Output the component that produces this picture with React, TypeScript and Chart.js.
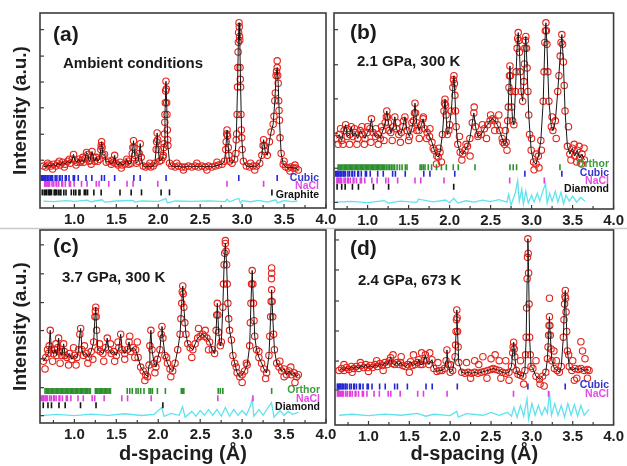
import React, { useEffect, useRef } from 'react';
import { Chart, registerables } from 'chart.js';
Chart.register(...registerables);

type Pt = [number, number];

const FONT = "'Liberation Sans', Arial, Helvetica, sans-serif";
const X_MIN = 0.59;
const X_MAX = 4.0;
const X_LABELS = [1.0, 1.5, 2.0, 2.5, 3.0, 3.5, 4.0];
const X_MARKS = [0.75, 1.0, 1.25, 1.5, 1.75, 2.0, 2.25, 2.5, 2.75, 3.0, 3.25, 3.5, 3.75, 4.0];

// ---------- Panel (a): ambient conditions ----------
const A_PROFILE: Pt[] = [
  [0.63, 21.5], [0.66, 21.0], [0.69, 22.0], [0.72, 21.5], [0.75, 22.5], [0.78, 21.5], [0.8, 23.0], [0.83, 22.0],
  [0.86, 23.5], [0.89, 22.5], [0.92, 24.0], [0.95, 23.0], [0.975, 25.0], [0.99, 27.5], [1.005, 24.5], [1.03, 23.5],
  [1.05, 25.0], [1.07, 23.5], [1.09, 24.5], [1.11, 23.5], [1.13, 25.5], [1.145, 28.5], [1.16, 27.5], [1.175, 24.0],
  [1.19, 24.5], [1.21, 29.0], [1.225, 26.0], [1.24, 24.0], [1.26, 26.0], [1.28, 24.0], [1.3, 25.0], [1.315, 30.0],
  [1.325, 34.0], [1.34, 27.0], [1.36, 27.5], [1.38, 23.5], [1.41, 24.0], [1.44, 22.5], [1.465, 23.5], [1.48, 27.0],
  [1.495, 23.0], [1.52, 22.0], [1.545, 23.5], [1.57, 22.0], [1.6, 22.5], [1.625, 25.0], [1.65, 22.5], [1.675, 23.0],
  [1.69, 28.0], [1.705, 34.5], [1.72, 27.0], [1.74, 23.0], [1.76, 24.0], [1.773, 28.0], [1.785, 33.0], [1.797, 26.0],
  [1.82, 21.5], [1.85, 21.0], [1.88, 21.5], [1.91, 21.0], [1.94, 21.5], [1.96, 23.0], [1.975, 30.0], [1.987, 38.5],
  [2.0, 30.0], [2.015, 24.0], [2.035, 24.5], [2.055, 26.0], [2.07, 33.0], [2.08, 48.0], [2.092, 65.0], [2.104, 48.0],
  [2.115, 32.0], [2.135, 23.0], [2.16, 21.5], [2.2, 21.0], [2.24, 21.5], [2.28, 21.0], [2.32, 21.0], [2.36, 21.5],
  [2.4, 21.0], [2.44, 21.5], [2.48, 21.0], [2.52, 21.5], [2.56, 21.0], [2.6, 21.5], [2.64, 21.0], [2.68, 21.5],
  [2.72, 22.0], [2.76, 22.5], [2.79, 24.0], [2.805, 30.0], [2.82, 40.0], [2.835, 31.0], [2.85, 24.0], [2.88, 23.0],
  [2.91, 25.0], [2.93, 35.0], [2.945, 62.0], [2.955, 85.0], [2.963, 95.0], [2.972, 86.0], [2.982, 62.0], [2.995, 36.0],
  [3.015, 24.0], [3.05, 21.5], [3.09, 21.0], [3.13, 21.5], [3.17, 21.5], [3.21, 23.0], [3.235, 27.0], [3.256, 35.0],
  [3.275, 29.0], [3.3, 27.0], [3.325, 34.0], [3.345, 39.0], [3.37, 43.0], [3.39, 55.0], [3.405, 68.0], [3.418, 72.0],
  [3.43, 64.0], [3.445, 45.0], [3.465, 28.0], [3.49, 22.5], [3.52, 21.0], [3.55, 20.5], [3.58, 21.0], [3.61, 20.5],
  [3.64, 20.5], [3.67, 19.5],
];
// observed circles on peak flanks and scatter off the fitted curve
const A_EXTRA: Pt[] = [
  [3.418, 75.5], [2.925, 28], [2.935, 38], [2.94, 48], [2.949, 72], [2.952, 80], [2.958, 90], [2.966, 93], [2.969, 88],
  [2.975, 72], [2.978, 66], [2.986, 48], [2.99, 40], [3.0, 30], [2.06, 27], [2.068, 31], [2.074, 38], [2.078, 44],
  [2.084, 54], [2.088, 60], [2.096, 61], [2.1, 54], [2.108, 40], [2.112, 35], [3.38, 47], [3.396, 59], [3.41, 70],
  [3.424, 68], [3.436, 55], [3.44, 50], [3.452, 36], [2.81, 34], [2.816, 38], [2.826, 37], [2.842, 27], [1.98, 34],
  [1.993, 35], [1.697, 31], [1.712, 31], [3.25, 32], [3.264, 32], [1.32, 32], [1.33, 31], [0.68, 23], [0.74, 20],
  [0.82, 24], [0.88, 21], [0.94, 25], [1.02, 22], [1.1, 26], [1.2, 22.5], [1.45, 24.5], [1.56, 20.5], [1.64, 24],
  [1.9, 23], [2.22, 23], [2.3, 19.5], [2.46, 23], [2.58, 19.5], [2.7, 23.5], [3.1, 23], [3.15, 19.5], [3.5, 24],
  [3.57, 19], [3.63, 22],
];
const A_DIFF: Pt[] = [
  [0.63, 3.5], [0.75, 3.3], [0.9, 3.8], [1.0, 3.4], [1.15, 4.0], [1.2, 3.2], [1.33, 4.2], [1.36, 3.0], [1.5, 3.6],
  [1.7, 3.9], [1.72, 3.0], [1.8, 3.6], [2.0, 3.4], [2.09, 4.8], [2.11, 2.6], [2.2, 3.6], [2.4, 3.4], [2.6, 3.7],
  [2.8, 3.3], [2.82, 4.5], [2.85, 3.2], [2.96, 5.0], [2.98, 2.5], [3.0, 3.8], [3.1, 3.2], [3.2, 3.9], [3.3, 3.0],
  [3.4, 4.2], [3.42, 2.6], [3.5, 3.8], [3.6, 3.3], [3.66, 3.6],
];
const A_CUBIC = [3.418, 2.96, 2.093, 1.785, 1.709, 1.48, 1.358, 1.324, 1.208, 1.139, 1.046, 1.001, 0.987, 0.936, 0.903,
  0.892, 0.855, 0.829, 0.821, 0.791, 0.771, 0.74, 0.723, 0.718, 0.698, 0.684, 0.679, 0.662, 0.65, 0.646, 0.631, 0.621, 0.604];
const A_NACL = [3.256, 2.82, 1.994, 1.7, 1.628, 1.41, 1.294, 1.261, 1.151, 1.085, 0.997, 0.953, 0.94, 0.892, 0.86, 0.85,
  0.814, 0.79, 0.782, 0.754, 0.734, 0.705, 0.688, 0.684, 0.665, 0.651, 0.647];
const A_GRAPHITE = [3.355, 2.134, 2.034, 1.8, 1.677, 1.544, 1.319, 1.232, 1.157, 1.136, 1.118, 1.067, 1.054, 1.017, 0.993,
  0.963, 0.9, 0.874, 0.839, 0.828, 0.807, 0.784, 0.772, 0.759, 0.727, 0.712, 0.704, 0.693, 0.671, 0.657, 0.64, 0.617];
const A_YTICKS = [24.5, 37.8, 51.4, 64.6, 77.9, 91.5];

// ---------- Panel (b): 2.1 GPa, 300 K ----------
const B_PROFILE: Pt[] = [
  [0.624, 36], [0.654, 38], [0.683, 35], [0.713, 40], [0.732, 43], [0.752, 37], [0.781, 38], [0.801, 42], [0.821, 37],
  [0.85, 39], [0.88, 36], [0.909, 40], [0.939, 38], [0.968, 36], [0.998, 39], [1.027, 41], [1.047, 46], [1.067, 39],
  [1.096, 37], [1.126, 38], [1.155, 36], [1.185, 40], [1.214, 44], [1.234, 50], [1.254, 44], [1.283, 39], [1.313, 42],
  [1.332, 47], [1.352, 41], [1.381, 38], [1.411, 39], [1.431, 42], [1.455, 47], [1.48, 40], [1.509, 37], [1.539, 41],
  [1.559, 45], [1.578, 54], [1.598, 44], [1.627, 40], [1.657, 43], [1.677, 46], [1.696, 41], [1.726, 39], [1.755, 37],
  [1.785, 34], [1.814, 30], [1.844, 27], [1.863, 26.5], [1.883, 29], [1.913, 38], [1.932, 50], [1.944, 56], [1.957, 48],
  [1.972, 38], [1.991, 40], [2.021, 50], [2.04, 62], [2.053, 68], [2.065, 58], [2.08, 42], [2.1, 33], [2.129, 29],
  [2.159, 28], [2.188, 30], [2.218, 32], [2.247, 36], [2.277, 44], [2.296, 49], [2.316, 42], [2.345, 37], [2.385, 38],
  [2.424, 41], [2.464, 43], [2.493, 45], [2.523, 46], [2.552, 45], [2.582, 43], [2.611, 40], [2.641, 36], [2.67, 33],
  [2.69, 34], [2.709, 45], [2.724, 62], [2.736, 73], [2.749, 60], [2.768, 45], [2.784, 43], [2.803, 60], [2.823, 82],
  [2.837, 90], [2.852, 80], [2.872, 60], [2.891, 55], [2.906, 65], [2.918, 82], [2.93, 88], [2.945, 72], [2.965, 48],
  [2.995, 30], [3.024, 24], [3.054, 23], [3.083, 27], [3.113, 35], [3.142, 55], [3.162, 85], [3.175, 95], [3.187, 84],
  [3.211, 55], [3.241, 42], [3.26, 40], [3.29, 45], [3.319, 60], [3.349, 78], [3.369, 89], [3.388, 75], [3.408, 50],
  [3.437, 32], [3.467, 28], [3.496, 31], [3.526, 27], [3.556, 30], [3.585, 26], [3.615, 28], [3.644, 25],
];
const B_EXTRA: Pt[] = [
  [2.716, 52], [2.73, 68], [2.742, 68], [2.756, 52], [2.812, 70], [2.83, 87], [2.844, 86], [2.862, 70], [2.912, 74],
  [2.924, 86], [2.938, 82], [2.955, 60], [2.975, 38], [3.152, 70], [3.168, 91], [3.181, 91], [3.198, 70], [3.334, 68],
  [3.359, 85], [3.378, 84], [3.398, 63], [2.047, 66], [2.059, 64], [2.072, 50], [1.938, 54], [1.95, 53], [1.572, 49],
  [1.585, 49], [1.228, 47], [1.242, 47],
  [0.64, 33], [0.67, 41], [0.7, 33], [0.75, 41], [0.78, 33], [0.84, 41], [0.87, 33], [0.93, 42], [0.96, 33], [1.0, 42],
  [1.04, 34], [1.1, 41], [1.13, 33], [1.17, 42], [1.2, 35], [1.26, 40], [1.3, 35], [1.36, 44], [1.4, 34], [1.44, 45],
  [1.5, 35], [1.54, 44], [1.6, 40], [1.63, 36], [1.68, 47], [1.72, 36], [1.76, 41], [1.8, 31], [1.84, 23], [1.87, 31],
  [1.9, 24], [2.0, 43], [2.12, 37], [2.15, 25], [2.2, 33], [2.25, 27], [2.3, 52], [2.35, 38], [2.4, 43], [2.45, 36],
  [2.5, 48], [2.55, 40], [2.6, 48], [2.65, 34], [2.68, 40], [2.7, 30], [3.0, 36], [3.03, 20], [3.06, 28], [3.09, 21],
  [3.12, 30], [3.25, 47], [3.3, 36], [3.45, 42], [3.48, 25], [3.52, 33], [3.55, 24], [3.58, 32], [3.61, 23], [3.64, 31],
];
const B_DIFF: Pt[] = [
  [0.63, 3.5], [0.8, 3.9], [1.0, 3.3], [1.2, 4.3], [1.25, 3.0], [1.4, 4.0], [1.6, 3.4], [1.62, 5.0], [1.8, 3.6],
  [1.95, 4.6], [2.0, 3.2], [2.05, 5.5], [2.1, 3.0], [2.2, 4.2], [2.3, 3.5], [2.4, 4.5], [2.5, 3.8], [2.6, 4.8],
  [2.7, 3.5], [2.72, 7.5], [2.75, 2.0], [2.8, 8.0], [2.83, 14.5], [2.85, 4.0], [2.88, 10.0], [2.9, 2.5], [2.93, 9.0],
  [2.96, 3.0], [3.0, 7.0], [3.03, 3.5], [3.07, 8.0], [3.1, 4.0], [3.14, 9.5], [3.17, 13.0], [3.19, 3.0], [3.22, 8.0],
  [3.25, 4.0], [3.29, 9.0], [3.32, 3.5], [3.36, 8.5], [3.39, 2.5], [3.42, 7.0], [3.46, 4.0], [3.5, 6.5], [3.55, 3.5],
  [3.6, 6.0], [3.65, 4.0],
];
const B_ORTHOR = [0.64, 0.655, 0.67, 0.685, 0.7, 0.715, 0.73, 0.745, 0.76, 0.775, 0.79, 0.805, 0.82, 0.835, 0.85, 0.865,
  0.88, 0.895, 0.91, 0.925, 0.94, 0.955, 0.97, 0.985, 1.0, 1.015, 1.03, 1.045, 1.06, 1.075, 1.09, 1.105, 1.12, 1.135,
  1.15, 1.165, 1.18, 1.195, 1.21, 1.23, 1.25, 1.27, 1.29, 1.31, 1.33, 1.36, 1.39, 1.42, 1.46, 1.48, 1.64, 1.66, 1.68,
  1.7, 1.74, 1.78, 1.84, 1.9, 1.96, 2.045, 2.106, 2.31, 2.736, 2.776, 2.817, 3.346];
const B_CUBIC = [3.369, 2.918, 2.063, 1.76, 1.685, 1.459, 1.339, 1.305, 1.191, 1.123, 1.032, 0.986, 0.973, 0.923, 0.89,
  0.88, 0.842, 0.817, 0.809, 0.78, 0.76, 0.73, 0.713, 0.708, 0.688, 0.674, 0.669, 0.652, 0.641, 0.637, 0.622, 0.612];
const B_NACL = [3.155, 2.733, 1.932, 1.648, 1.578, 1.366, 1.254, 1.222, 1.116, 1.052, 0.966, 0.924, 0.911, 0.864, 0.833,
  0.824, 0.789, 0.765, 0.758, 0.73, 0.713, 0.683, 0.668, 0.663, 0.644, 0.631, 0.627];
const B_DIAMOND = [2.05, 1.256, 1.071, 0.888, 0.815, 0.726, 0.684, 0.628];
const B_YTICKS = [3.4, 20.8, 38.7, 56.2, 73.6, 91.5];

// ---------- Panel (c): 3.7 GPa, 300 K ----------
const C_PROFILE: Pt[] = [
  [0.63, 32], [0.66, 34], [0.69, 36], [0.7, 40], [0.712, 48], [0.725, 38], [0.75, 36], [0.77, 38], [0.79, 35], [0.8, 39],
  [0.812, 44], [0.825, 37], [0.85, 35], [0.872, 41], [0.89, 35], [0.91, 34], [0.94, 36], [0.97, 33], [1.0, 35],
  [1.03, 34], [1.05, 38], [1.065, 46], [1.075, 49], [1.09, 38], [1.11, 35], [1.14, 36], [1.17, 34], [1.2, 37],
  [1.23, 42], [1.245, 55], [1.255, 60], [1.265, 48], [1.28, 38], [1.31, 37], [1.34, 36], [1.37, 39], [1.392, 44],
  [1.41, 38], [1.44, 36], [1.47, 37], [1.5, 35], [1.53, 39], [1.552, 46], [1.57, 38], [1.6, 36], [1.63, 38],
  [1.652, 42], [1.67, 37], [1.7, 39], [1.73, 38], [1.76, 34], [1.79, 29], [1.82, 27], [1.85, 25], [1.872, 24],
  [1.89, 30], [1.9, 40], [1.912, 48], [1.925, 38], [1.95, 31], [1.972, 29], [1.99, 33], [2.02, 38], [2.035, 46],
  [2.044, 50], [2.055, 44], [2.08, 35], [2.11, 31], [2.14, 28], [2.172, 27], [2.2, 31], [2.232, 38], [2.26, 46],
  [2.28, 62], [2.292, 71], [2.305, 60], [2.33, 46], [2.352, 41], [2.38, 39], [2.412, 38], [2.44, 41], [2.47, 44],
  [2.5, 45], [2.53, 46], [2.55, 45], [2.58, 44], [2.612, 42], [2.645, 38], [2.672, 36], [2.69, 48], [2.704, 62],
  [2.72, 47], [2.74, 40], [2.752, 42], [2.77, 60], [2.785, 82], [2.8, 93], [2.815, 82], [2.83, 62], [2.85, 48],
  [2.872, 43], [2.89, 35], [2.912, 31], [2.94, 26], [2.972, 24], [3.0, 25], [3.03, 27], [3.06, 30], [3.09, 40],
  [3.105, 62], [3.12, 79], [3.135, 62], [3.15, 45], [3.172, 38], [3.2, 34], [3.232, 31], [3.26, 28], [3.292, 26],
  [3.32, 35], [3.34, 55], [3.352, 69], [3.365, 55], [3.385, 38], [3.412, 31], [3.44, 29], [3.472, 27], [3.5, 28],
  [3.53, 25], [3.56, 27], [3.59, 25], [3.62, 26], [3.65, 24], [3.67, 25],
];
const C_EXTRA: Pt[] = [
  [3.352, 80.3], [3.352, 77.6], [3.35, 74.8], [2.8, 94.5], [2.778, 72], [2.792, 88], [2.808, 89], [2.822, 72],
  [2.84, 54], [3.098, 52], [3.112, 72], [3.128, 72], [3.142, 53], [3.33, 45], [3.346, 63], [3.358, 63], [3.375, 46],
  [2.27, 54], [2.286, 68], [2.298, 67], [2.317, 52], [2.697, 56], [2.711, 56], [1.25, 58], [1.26, 55],
  [0.65, 28], [0.68, 38], [0.74, 32], [0.78, 41], [0.83, 31], [0.88, 37], [0.93, 30], [0.99, 39], [1.02, 30],
  [1.12, 40], [1.16, 31], [1.22, 33], [1.3, 41], [1.35, 32], [1.43, 41], [1.48, 32], [1.52, 42], [1.6, 33],
  [1.66, 45], [1.72, 34], [1.75, 42], [1.84, 22], [1.96, 26], [2.1, 34], [2.15, 24], [2.4, 34], [2.48, 49],
  [2.56, 48], [2.6, 38], [2.93, 29], [3.0, 21], [3.05, 31], [3.2, 37], [3.28, 23], [3.45, 32], [3.5, 24],
  [3.58, 29], [3.63, 21],
];
const C_DIFF: Pt[] = [
  [0.63, 4.0], [0.8, 4.5], [1.0, 3.8], [1.2, 4.6], [1.4, 4.0], [1.6, 4.8], [1.8, 3.9], [1.95, 4.5], [2.04, 8.0],
  [2.07, 3.5], [2.15, 5.0], [2.25, 4.0], [2.29, 8.5], [2.32, 3.0], [2.4, 6.0], [2.45, 3.5], [2.5, 6.5], [2.55, 4.0],
  [2.6, 7.0], [2.65, 4.0], [2.7, 7.0], [2.75, 3.5], [2.8, 8.0], [2.85, 3.5], [2.9, 7.0], [2.95, 4.0], [3.0, 6.5],
  [3.05, 4.0], [3.1, 9.0], [3.12, 12.5], [3.14, 3.5], [3.2, 7.0], [3.25, 4.0], [3.3, 7.5], [3.35, 10.5], [3.38, 3.0],
  [3.45, 6.5], [3.5, 4.0], [3.55, 6.0], [3.6, 4.5], [3.67, 5.5],
];
const C_ORTHOR = [0.65, 0.665, 0.68, 0.695, 0.71, 0.725, 0.74, 0.755, 0.77, 0.785, 0.8, 0.815, 0.83, 0.845, 0.86, 0.875,
  0.89, 0.905, 0.92, 0.935, 0.95, 0.965, 0.98, 0.995, 1.01, 1.025, 1.04, 1.055, 1.07, 1.085, 1.1, 1.115, 1.13, 1.145,
  1.16, 1.175, 1.19, 1.25, 1.265, 1.28, 1.295, 1.31, 1.325, 1.34, 1.355, 1.37, 1.385, 1.4, 1.415, 1.43, 1.63, 1.66,
  1.69, 1.735, 1.76, 1.79, 1.83, 1.89, 1.91, 1.93, 1.99, 2.085, 2.275, 2.29, 2.305, 2.715, 2.74, 2.77, 3.352];
const C_NACL = [3.129, 2.71, 1.916, 1.634, 1.565, 1.355, 1.243, 1.212, 1.106, 1.043, 0.958, 0.916, 0.903, 0.857, 0.827,
  0.817, 0.782, 0.759, 0.752, 0.724, 0.706, 0.678, 0.662, 0.657, 0.639, 0.626, 0.622, 0.606];
const C_DIAMOND = [2.055, 1.258, 1.073, 0.89, 0.816, 0.727, 0.685, 0.629];
const C_YTICKS = [3.8, 18.3, 33.3, 47.9, 62.4, 77.3, 92.3];

// ---------- Panel (d): 2.4 GPa, 673 K ----------
const D_PROFILE: Pt[] = [
  [0.64, 28], [0.67, 29], [0.7, 28], [0.73, 29.5], [0.76, 28.5], [0.79, 30], [0.82, 29], [0.85, 30], [0.88, 29],
  [0.91, 30.5], [0.94, 29.5], [0.968, 31], [0.99, 29.5], [1.02, 30.5], [1.05, 29.5], [1.08, 31], [1.11, 30],
  [1.14, 31.5], [1.17, 30.5], [1.2, 32], [1.23, 31], [1.255, 33], [1.271, 34.5], [1.29, 31.5], [1.32, 31], [1.35, 32],
  [1.37, 31], [1.393, 32], [1.42, 30.5], [1.45, 30], [1.48, 31], [1.514, 32.5], [1.54, 30.5], [1.57, 31], [1.6, 32],
  [1.615, 33.5], [1.635, 31], [1.66, 31], [1.68, 33], [1.696, 36], [1.71, 33], [1.74, 31], [1.777, 33.5], [1.8, 29],
  [1.838, 27.5], [1.87, 28], [1.9, 28], [1.93, 29], [1.95, 33], [1.96, 38.5], [1.975, 31], [2.0, 27], [2.03, 28],
  [2.06, 35], [2.072, 48], [2.081, 59], [2.09, 48], [2.105, 32], [2.142, 27], [2.18, 26.5], [2.22, 27], [2.26, 26.5],
  [2.3, 27], [2.34, 26.5], [2.38, 27], [2.42, 27.5], [2.46, 28], [2.5, 28.5], [2.526, 29], [2.56, 28.5], [2.6, 28],
  [2.64, 27], [2.68, 26.5], [2.72, 27], [2.75, 30], [2.765, 37], [2.777, 42.5], [2.79, 35], [2.81, 28], [2.83, 26],
  [2.86, 25.5], [2.89, 25], [2.915, 28], [2.93, 45], [2.942, 75], [2.951, 95.5], [2.96, 78], [2.972, 45], [2.99, 30],
  [3.012, 29], [3.05, 25], [3.093, 23.5], [3.13, 25], [3.17, 27], [3.19, 34], [3.205, 46], [3.215, 55.5], [3.225, 46],
  [3.245, 33], [3.275, 29], [3.31, 28], [3.336, 27], [3.36, 30], [3.385, 45], [3.4, 62], [3.409, 69], [3.418, 58],
  [3.435, 38], [3.457, 30], [3.49, 28], [3.53, 29], [3.57, 28.5], [3.6, 29], [3.64, 28], [3.68, 28.5], [3.7, 28],
];
const D_EXTRA: Pt[] = [
  [3.215, 65], [3.6, 42.7], [2.3, 33], [2.4, 35], [2.5, 34], [2.6, 33], [3.1, 21], [3.3, 33], [3.5, 33], [3.55, 24],
  [3.65, 34], [2.923, 36], [2.936, 60], [2.946, 86], [2.955, 88], [2.966, 62], [2.98, 36], [2.066, 41], [2.077, 54],
  [2.085, 55], [2.097, 40], [3.198, 40], [3.21, 51], [3.22, 51], [3.235, 39], [3.393, 54], [3.405, 66], [3.413, 65],
  [3.426, 48], [2.771, 40], [2.784, 39],
  [2.2, 32], [2.25, 24], [2.35, 31], [2.45, 24], [2.55, 36], [2.62, 24], [2.68, 33], [2.72, 23], [2.86, 33], [2.9, 21],
  [3.05, 33], [3.15, 20], [3.27, 38], [3.45, 36], [3.52, 23], [3.62, 38], [3.68, 24], [1.3, 36], [1.4, 35], [1.5, 27],
  [1.55, 36], [1.65, 37], [1.75, 37], [1.85, 32], [2.0, 31], [0.7, 31], [0.8, 27], [0.9, 32], [1.0, 27.5], [1.1, 33],
  [1.18, 28],
];
const D_DIFF: Pt[] = [
  [0.64, 5.0], [0.8, 5.5], [1.0, 4.8], [1.2, 5.6], [1.4, 5.0], [1.6, 6.0], [1.7, 4.5], [1.8, 5.5], [2.0, 4.8],
  [2.08, 7.0], [2.1, 4.0], [2.2, 5.8], [2.4, 5.0], [2.5, 6.5], [2.6, 5.0], [2.7, 6.5], [2.75, 4.5], [2.78, 9.0],
  [2.82, 4.0], [2.86, 10.0], [2.9, 4.5], [2.94, 13.5], [2.96, 3.0], [3.0, 11.0], [3.04, 5.0], [3.08, 10.0], [3.12, 5.0],
  [3.16, 9.0], [3.19, 6.0], [3.215, 17.0], [3.24, 5.0], [3.28, 11.0], [3.32, 5.0], [3.36, 10.0], [3.4, 4.0],
  [3.44, 11.0], [3.48, 5.0], [3.52, 10.5], [3.56, 4.5], [3.6, 10.0], [3.64, 5.0], [3.7, 8.0],
];
const D_CUBIC = [3.408, 2.951, 2.087, 1.78, 1.704, 1.476, 1.354, 1.32, 1.205, 1.136, 1.043, 0.998, 0.984, 0.933, 0.9,
  0.889, 0.852, 0.827, 0.819, 0.789, 0.769, 0.738, 0.721, 0.716, 0.696, 0.682, 0.677, 0.66, 0.648, 0.644, 0.629, 0.619];
const D_NACL = [3.204, 2.775, 1.962, 1.673, 1.602, 1.388, 1.273, 1.241, 1.133, 1.068, 0.981, 0.938, 0.925, 0.878, 0.846,
  0.837, 0.801, 0.777, 0.77, 0.742, 0.723, 0.694, 0.678, 0.673, 0.654, 0.641, 0.637, 0.62];
const D_YTICKS = [17.9, 32.8, 48.2, 63.6, 79.5, 94.9];

// ---------- styling / layout ----------
const GREEN = '#2f8f2f';
const BLUE = '#2626d6';
const MAGENTA = '#e03ee0';
const BLACK = '#141414';

interface Phase { name: string; color: string; labelColor: string; level: number; d: number[]; labelY: number; }
interface PanelCfg {
  obs: Pt[]; extra: Pt[]; diff: Pt[]; phases: Phase[]; yTicks: number[];
  padding: { left: number; top: number; right: number; bottom: number };
  xAxisH: number; yTitle: boolean; xTitle: boolean;
  tag: string; cond: string; tagPos: [number, number]; condPos: [number, number]; labelRight: number; separator?: boolean;
}

const PANELS: PanelCfg[] = [
  {
    obs: A_PROFILE, extra: A_EXTRA, diff: A_DIFF, yTicks: A_YTICKS,
    phases: [
      { name: 'Cubic', color: BLUE, labelColor: '#3434d0', level: 15.4, d: A_CUBIC, labelY: 178 },
      { name: 'NaCl', color: MAGENTA, labelColor: '#e44ce4', level: 12.4, d: A_NACL, labelY: 186 },
      { name: 'Graphite', color: BLACK, labelColor: '#111', level: 8.0, d: A_GRAPHITE, labelY: 195 },
    ],
    padding: { left: 0, top: 13, right: 301, bottom: 234 }, xAxisH: 24, yTitle: true, xTitle: false,
    tag: '(a)', cond: 'Ambient conditions', tagPos: [53, 35], condPos: [63, 64], labelRight: 319, separator: true,
  },
  {
    obs: B_PROFILE, extra: B_EXTRA, diff: B_DIFF, yTicks: B_YTICKS,
    phases: [
      { name: 'Orthor', color: GREEN, labelColor: '#3c9c3c', level: 21.3, d: B_ORTHOR, labelY: 164 },
      { name: 'Cubic', color: BLUE, labelColor: '#3434d0', level: 18.0, d: B_CUBIC, labelY: 173 },
      { name: 'NaCl', color: MAGENTA, labelColor: '#e44ce4', level: 14.6, d: B_NACL, labelY: 181 },
      { name: 'Diamond', color: BLACK, labelColor: '#111', level: 11.4, d: B_DIAMOND, labelY: 189 },
    ],
    padding: { left: 334, top: 13, right: 13, bottom: 233 }, xAxisH: 24, yTitle: false, xTitle: false,
    tag: '(b)', cond: '2.1 GPa, 300 K', tagPos: [350, 33], condPos: [357, 62], labelRight: 609,
  },
  {
    obs: C_PROFILE, extra: C_EXTRA, diff: C_DIFF, yTicks: C_YTICKS,
    phases: [
      { name: 'Orthor', color: GREEN, labelColor: '#3c9c3c', level: 16.6, d: C_ORTHOR, labelY: 390 },
      { name: 'NaCl', color: MAGENTA, labelColor: '#e44ce4', level: 12.8, d: C_NACL, labelY: 399 },
      { name: 'Diamond', color: BLACK, labelColor: '#111', level: 9.2, d: C_DIAMOND, labelY: 407 },
    ],
    padding: { left: 0, top: 230, right: 301, bottom: 0 }, xAxisH: 43, yTitle: true, xTitle: true,
    tag: '(c)', cond: '3.7 GPa, 300 K', tagPos: [53, 247], condPos: [62, 278], labelRight: 320,
  },
  {
    obs: D_PROFILE, extra: D_EXTRA, diff: D_DIFF, yTicks: D_YTICKS,
    phases: [
      { name: 'Cubic', color: BLUE, labelColor: '#3434d0', level: 19.8, d: D_CUBIC, labelY: 385 },
      { name: 'NaCl', color: MAGENTA, labelColor: '#e44ce4', level: 16.0, d: D_NACL, labelY: 394 },
    ],
    padding: { left: 335, top: 230, right: 12, bottom: 0 }, xAxisH: 41, yTitle: false, xTitle: true,
    tag: '(d)', cond: '2.4 GPa, 673 K', tagPos: [350, 249], condPos: [358, 281], labelRight: 609,
  },
];

const toXY = (pts: Pt[]) => pts.map(([x, y]) => ({ x, y }));

function Panel({ cfg }: { cfg: PanelCfg }) {
  const ref = useRef<HTMLCanvasElement>(null);
  useEffect(() => {
    if (!ref.current) return;
    const datasets: any[] = [];
    // first dataset is drawn on top
    datasets.push({ data: toXY(cfg.obs), showLine: true, borderColor: '#161616', borderWidth: 1, pointRadius: 0, tension: 0 });
    datasets.push({
      data: toXY([...cfg.obs, ...cfg.extra]), showLine: false, pointStyle: 'circle', pointRadius: 3.2,
      borderColor: '#e3241b', backgroundColor: 'rgba(0,0,0,0)', borderWidth: 1.1,
    });
    cfg.phases.forEach((ph) => {
      datasets.push({
        data: ph.d.map((x) => ({ x, y: ph.level })), showLine: false, pointStyle: 'line', rotation: 90,
        pointRadius: 3, borderColor: ph.color, borderWidth: 1.6,
      });
    });
    datasets.push({ data: toXY(cfg.diff), showLine: true, borderColor: '#5fe3ee', borderWidth: 1.3, pointRadius: 0, tension: 0 });

    const deco = {
      id: 'deco',
      afterDraw(chart: any) {
        const { ctx, chartArea: ca, scales } = chart;
        const xs = scales.x, ys = scales.y;
        ctx.save();
        if (cfg.separator) {
          ctx.strokeStyle = '#c9c9c9'; ctx.lineWidth = 1.5;
          ctx.beginPath(); ctx.moveTo(0, 228.5); ctx.lineTo(627, 228.5); ctx.stroke();
        }
        ctx.strokeStyle = '#3a3a3a'; ctx.lineWidth = 1.2;
        X_MARKS.forEach((v, i) => {
          const px = xs.getPixelForValue(v);
          const len = i % 2 === 1 ? 4 : 3;
          ctx.beginPath(); ctx.moveTo(px, ca.bottom); ctx.lineTo(px, ca.bottom - len); ctx.stroke();
        });
        cfg.yTicks.forEach((v) => {
          const py = ys.getPixelForValue(v);
          ctx.beginPath(); ctx.moveTo(ca.left, py); ctx.lineTo(ca.left + 4, py); ctx.stroke();
        });
        ctx.strokeStyle = '#3c3c3c'; ctx.lineWidth = 1.6;
        ctx.strokeRect(ca.left, ca.top, ca.right - ca.left, ca.bottom - ca.top);
        ctx.fillStyle = '#1a1a1a';
        ctx.textBaseline = 'middle'; ctx.textAlign = 'left';
        ctx.font = `bold 21px ${FONT}`;
        ctx.fillText(cfg.tag, cfg.tagPos[0], cfg.tagPos[1]);
        ctx.font = `bold 15px ${FONT}`;
        ctx.fillText(cfg.cond, cfg.condPos[0], cfg.condPos[1]);
        ctx.textAlign = 'right';
        ctx.font = `bold 10.5px ${FONT}`;
        cfg.phases.forEach((ph) => {
          ctx.fillStyle = ph.labelColor;
          ctx.fillText(ph.name, cfg.labelRight, ph.labelY);
        });
        ctx.restore();
      },
    };

    const chart = new Chart(ref.current, {
      type: 'scatter',
      data: { datasets },
      options: {
        animation: false,
        responsive: false,
        devicePixelRatio: 1,
        events: [],
        layout: { padding: cfg.padding },
        plugins: { legend: { display: false }, tooltip: { enabled: false } },
        scales: {
          x: {
            type: 'linear', min: X_MIN, max: X_MAX,
            afterBuildTicks: (s: any) => { s.ticks = X_LABELS.map((value) => ({ value })); },
            afterFit: (s: any) => { s.height = cfg.xAxisH; },
            grid: { display: false, drawTicks: false },
            border: { display: false },
            ticks: {
              autoSkip: false, maxRotation: 0, padding: 3, color: '#1e1e1e',
              font: { family: FONT, size: 15, weight: 'bold' },
              callback: (v: any) => Number(v).toFixed(1),
            },
            title: {
              display: cfg.xTitle, text: 'd-spacing (Å)', color: '#1e1e1e', padding: { top: 0, bottom: 0 },
              font: { family: FONT, size: 20, weight: 'bold' },
            },
          },
          y: {
            type: 'linear', min: 0, max: 100,
            display: cfg.yTitle,
            afterFit: (s: any) => { s.width = cfg.yTitle ? 40 : 0; },
            grid: { display: false, drawTicks: false },
            border: { display: false },
            ticks: { display: false },
            title: {
              display: cfg.yTitle, text: 'Intensity (a.u.)', color: '#1e1e1e', padding: { top: 9, bottom: 0 },
              font: { family: FONT, size: 19, weight: 'bold' },
            },
          },
        },
      } as any,
      plugins: [deco],
    });
    return () => chart.destroy();
  }, [cfg]);
  return <canvas ref={ref} width={627} height={466} style={{ position: 'absolute', left: 0, top: 0 }} />;
}

export default function App() {
  return (
    <div style={{ position: 'fixed', left: 0, top: 0, width: 627, height: 466, background: '#fff', overflow: 'hidden' }}>
      {PANELS.map((p, i) => <Panel key={i} cfg={p} />)}
    </div>
  );
}
